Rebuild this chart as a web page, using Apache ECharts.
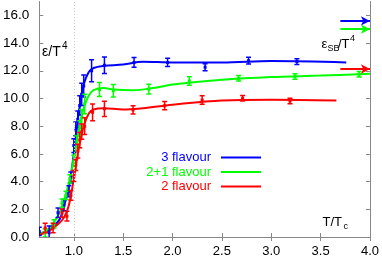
<!DOCTYPE html>
<html><head><meta charset="utf-8">
<script src="https://cdn.jsdelivr.net/npm/echarts@6/dist/echarts.min.js"></script>
<style>html,body{margin:0;padding:0;background:#fff}#c{width:382px;height:258px}</style>
</head><body><div id="c"></div>
<script>
// ---- data ----
const seriesNames = ['3 flavour', '2+1 flavour', '2 flavour'];
const colors = ['#0000ff', '#00ff00', '#ff0000'];
// 3 flavour points
const t3 = [0.65, 0.75, 0.84, 0.90, 0.95, 0.97, 1.00, 1.02, 1.04, 1.06, 1.08, 1.10, 1.18, 1.31, 1.61, 1.95, 2.33, 2.77, 3.26];
const v3 = [0.40, 0.30, 1.75, 2.30, 3.30, 4.30, 6.60, 7.80, 8.50, 9.50, 10.30, 10.90, 12.00, 12.40, 12.60, 12.60, 12.25, 12.73, 12.66];
const e3 = [0.30, 0.50, 0.35, 0.40, 0.40, 0.40, 0.50, 0.50, 0.60, 0.70, 0.80, 0.80, 0.80, 0.60, 0.35, 0.30, 0.25, 0.25, 0.20];
// 2+1 flavour points
const t21 = [0.71, 0.80, 0.88, 0.92, 0.96, 1.00, 1.03, 1.06, 1.08, 1.11, 1.26, 1.40, 1.76, 2.17, 2.67, 3.24, 3.89];
const v21 = [0.30, 0.95, 2.45, 3.00, 4.20, 5.50, 6.90, 7.90, 8.60, 9.60, 10.65, 10.55, 10.68, 11.26, 11.46, 11.58, 11.75];
const e21 = [0.30, 0.30, 0.30, 0.30, 0.30, 0.40, 0.40, 0.50, 0.60, 0.70, 0.50, 0.45, 0.35, 0.30, 0.20, 0.20, 0.20];
// 2 flavour points
const t2 = [0.71, 0.79, 0.88, 0.93, 0.97, 1.00, 1.02, 1.04, 1.06, 1.08, 1.11, 1.19, 1.31, 1.60, 1.92, 2.30, 2.71, 3.19];
const v2 = [0.65, 0.65, 1.73, 1.50, 3.00, 4.40, 5.20, 6.20, 7.00, 7.60, 8.00, 9.00, 9.25, 9.17, 9.48, 9.89, 10.01, 9.82];
const e2 = [0.35, 0.35, 0.30, 0.35, 0.35, 0.40, 0.40, 0.50, 0.55, 0.55, 0.60, 0.60, 0.55, 0.30, 0.30, 0.30, 0.20, 0.20];
// fit curves
const fitT3 = [0.65, 0.75, 0.85, 0.90, 0.95, 1.00, 1.05, 1.10, 1.15, 1.20, 1.30, 1.50, 1.70, 2.00, 2.50, 3.00, 3.76];
const fitV3 = [0.25, 0.50, 1.20, 2.20, 3.60, 6.00, 9.00, 11.00, 11.90, 12.20, 12.35, 12.45, 12.65, 12.60, 12.60, 12.70, 12.60];
const fitT21 = [0.65, 0.75, 0.85, 0.90, 0.95, 1.00, 1.05, 1.10, 1.15, 1.20, 1.30, 1.40, 1.60, 1.80, 2.00, 2.50, 3.00, 3.50, 4.00];
const fitV21 = [0.20, 0.60, 1.70, 2.60, 3.90, 5.60, 7.70, 9.30, 10.20, 10.60, 10.75, 10.65, 10.60, 10.75, 11.00, 11.35, 11.55, 11.65, 11.78];
const fitT2 = [0.65, 0.75, 0.85, 0.90, 0.95, 1.00, 1.05, 1.10, 1.15, 1.20, 1.30, 1.50, 1.70, 2.00, 2.50, 3.00, 3.66];
const fitV2 = [0.15, 0.45, 1.00, 1.40, 2.30, 4.20, 6.40, 8.00, 8.90, 9.20, 9.30, 9.20, 9.30, 9.55, 9.85, 9.90, 9.85];
// Stefan-Boltzmann limits (arrows)
const sbLimits = [15.6, 15.0, 12.13];
const sbStart = 3.7;
// ticks
const xTicks = [1.0, 1.5, 2.0, 2.5, 3.0, 3.5, 4.0];
const yTicks = [0, 2, 4, 6, 8, 10, 12, 14, 16];
const xMin = 0.65, xMax = 4.0, yMin = 0, yMax = 17;

const FONT = 'Liberation Sans, Arial, Helvetica, sans-serif';
const frame = '#888888';

const pts = [[t3, v3, e3], [t21, v21, e21], [t2, v2, e2]];
const fits = [[fitT3, fitV3], [fitT21, fitV21], [fitT2, fitV2]];

function errRender(color) {
  return function (params, api) {
    const x = api.value(0), y = api.value(1), e = api.value(2);
    const p = api.coord([x, y]);
    const hi = api.coord([x, y + e]);
    const lo = api.coord([x, y - e]);
    const st = { stroke: color, lineWidth: 1.5 };
    return { type: 'group', children: [
      { type: 'line', shape: { x1: p[0], y1: hi[1], x2: p[0], y2: lo[1] }, style: st },
      { type: 'line', shape: { x1: p[0] - 2.5, y1: hi[1], x2: p[0] + 2.5, y2: hi[1] }, style: st },
      { type: 'line', shape: { x1: p[0] - 2.5, y1: lo[1], x2: p[0] + 2.5, y2: lo[1] }, style: st },
      { type: 'rect', shape: { x: p[0] - 1.5, y: p[1] - 1.5, width: 3, height: 3 }, style: { fill: color } }
    ]};
  };
}

const series = [];
fits.forEach((f, i) => {
  const s = {
    name: seriesNames[i], type: 'line', smooth: 0.35, showSymbol: false, symbol: 'none',
    data: f[0].map((t, k) => [t, f[1][k]]),
    lineStyle: { color: colors[i], width: 2 }, itemStyle: { color: colors[i] },
    z: 3, silent: true, animation: false,
    markLine: {
      silent: true, animation: false,
      label: { show: false },
      lineStyle: { color: colors[i], width: 2, type: 'solid' },
      symbol: ['none', 'arrow'], symbolSize: [7, 9],
      data: [[{ coord: [sbStart, sbLimits[i]] }, { coord: [xMax, sbLimits[i]] }]]
    }
  };
  if (i === 0) {
    s.markLine.data.push([{ coord: [1.0, yMin], symbol: 'none', lineStyle: { color: '#cccccc', width: 1, type: [1, 2] } },
                          { coord: [1.0, yMax], symbol: 'none', lineStyle: { color: '#cccccc', width: 1, type: [1, 2] } }]);
  }
  series.push(s);
});
pts.forEach((p, i) => {
  series.push({
    type: 'custom', name: seriesNames[i] + ' pts', renderItem: errRender(colors[i]),
    data: p[0].map((t, k) => [t, p[1][k], p[2][k]]),
    encode: { x: 0, y: 1 }, z: 4, silent: true, animation: false, clip: true
  });
});

const axBase = {
  axisLine: { show: true, lineStyle: { color: frame, width: 1 } },
  axisTick: { show: true, inside: true, length: 4, lineStyle: { color: frame } },
  splitLine: { show: false }
};

const option = {
  animation: false,
  grid: { left: 37, right: 10, top: 1.5, bottom: 21, containLabel: false },
  xAxis: [
    Object.assign({}, axBase, { type: 'value', min: xMin, max: xMax, position: 'bottom',
      axisTick: Object.assign({}, axBase.axisTick, { customValues: xTicks }),
      axisLabel: { customValues: xTicks, formatter: v => v.toFixed(1), color: '#000', fontSize: 13, fontFamily: FONT, margin: 8 } }),
    Object.assign({}, axBase, { type: 'value', min: xMin, max: xMax, position: 'top',
      axisTick: Object.assign({}, axBase.axisTick, { customValues: xTicks }),
      axisLabel: { show: false } })
  ],
  yAxis: [
    Object.assign({}, axBase, { type: 'value', min: yMin, max: yMax, position: 'left',
      axisTick: Object.assign({}, axBase.axisTick, { customValues: yTicks }),
      axisLabel: { customValues: yTicks, formatter: v => v.toFixed(1), color: '#000', fontSize: 13.5, fontFamily: FONT, margin: 10 } }),
    Object.assign({}, axBase, { type: 'value', min: yMin, max: yMax, position: 'right',
      axisTick: Object.assign({}, axBase.axisTick, { customValues: yTicks }),
      axisLabel: { show: false } })
  ],
  legend: {
    orient: 'vertical', align: 'right', right: 116, top: 146,
    itemWidth: 40, itemHeight: 2, itemGap: 1.5, icon: 'rect',
    selectedMode: false,
    data: seriesNames.map((n, i) => ({ name: n, textStyle: { color: colors[i], fontSize: 13, fontFamily: FONT, padding: [0, 5, 0, 0] } }))
  },
  graphic: [
    { type: 'text', style: { x: 42, y: 52, text: 'ε/T', font: '14px ' + FONT, fill: '#000', verticalAlign: 'middle' } },
    { type: 'text', style: { x: 62, y: 46, text: '4', font: '10px ' + FONT, fill: '#000', verticalAlign: 'middle' } },
    { type: 'text', style: { x: 321.5, y: 44, text: 'ε', font: '13px ' + FONT, fill: '#000', verticalAlign: 'middle' } },
    { type: 'text', style: { x: 327.5, y: 48.5, text: 'SB', font: '9px ' + FONT, fill: '#000', verticalAlign: 'middle' } },
    { type: 'text', style: { x: 338, y: 44, text: '/T', font: '13px ' + FONT, fill: '#000', verticalAlign: 'middle' } },
    { type: 'text', style: { x: 350, y: 38.5, text: '4', font: '9px ' + FONT, fill: '#000', verticalAlign: 'middle' } },
    { type: 'text', style: { x: 322.5, y: 222, text: 'T/T', font: '13px ' + FONT, fill: '#000', verticalAlign: 'middle' } },
    { type: 'text', style: { x: 343.5, y: 227, text: 'c', font: '9px ' + FONT, fill: '#000', verticalAlign: 'middle' } }
  ],
  series: series
};
const chart = echarts.init(document.getElementById('c'), null, { renderer: 'canvas' });
chart.setOption(option);
</script>
</body></html>
